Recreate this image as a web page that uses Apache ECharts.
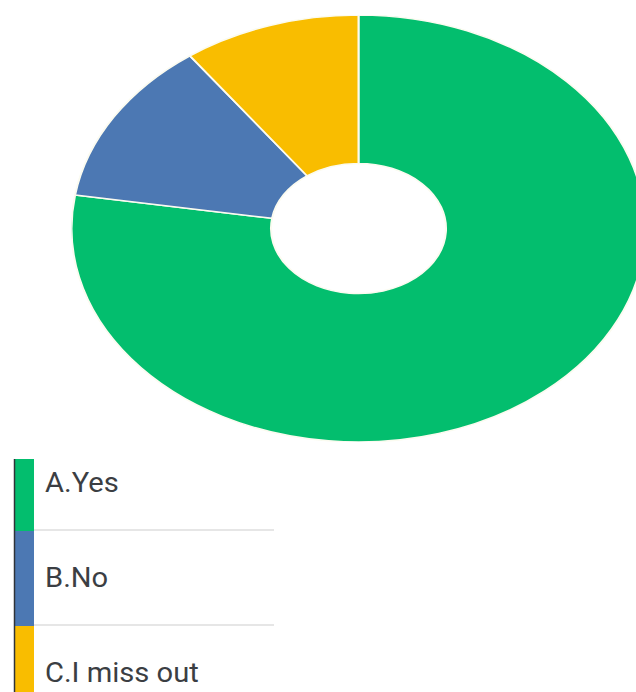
<!DOCTYPE html>
<html>
<head>
<meta charset="utf-8">
<script src="https://cdn.jsdelivr.net/npm/echarts@6/dist/echarts.min.js"></script>
<style>
  html, body { margin: 0; padding: 0; background: #fff; }
  body { width: 636px; height: 692px; overflow: hidden; position: relative; }
  #legend { position: absolute; left: 0; top: 0; width: 636px; height: 692px; }
  #donut { position: absolute; left: 144.5px; top: 15px; width: 427px; height: 427px;
           transform: scaleX(1.344); transform-origin: 50% 50%; }
</style>
</head>
<body>
<div id="legend"></div>
<div id="donut"></div>
<script>
// Survey answers and their counts
const categories = ['A.Yes', 'B.No', 'C.I miss out'];
const counts = [31, 5, 4];
const colors = ['#03BE6E', '#4C78B3', '#F9BD00'];

// Donut: a circular pie stretched horizontally by the container's CSS transform
const donut = echarts.init(document.getElementById('donut'), null, { renderer: 'svg' });
donut.setOption({
  animation: false,
  color: colors,
  series: [{
    type: 'pie',
    center: ['50%', '50%'],
    radius: ['30.5%', '100%'],
    startAngle: 90,
    clockwise: true,
    label: { show: false },
    labelLine: { show: false },
    itemStyle: { borderColor: '#fbfbf0', borderWidth: 1.5 },
    emphasis: { disabled: true },
    data: categories.map((name, i) => ({ name: name, value: counts[i] }))
  }]
});

// Legend list: colour strip, label and divider for each answer
const legend = echarts.init(document.getElementById('legend'), null, { renderer: 'svg' });
const rowTop = 436, rowPitch = 95, stripTop = 459;
const elements = [];
categories.forEach((name, i) => {
  const top = Math.max(rowTop + i * rowPitch, stripTop);
  const bottom = rowTop + (i + 1) * rowPitch;
  elements.push({
    type: 'rect', shape: { x: 15, y: top, width: 19, height: bottom - top },
    style: { fill: colors[i] }, silent: true
  });
  elements.push({
    type: 'text', x: 45, y: rowTop + i * rowPitch + rowPitch / 2 - 1, scaleX: 1.04,
    style: { text: name, fill: '#3b3e43', font: '28px Roboto, "Noto Sans", sans-serif',
             verticalAlign: 'middle', align: 'left' }, silent: true
  });
  if (i < categories.length - 1) {
    elements.push({
      type: 'line', shape: { x1: 34, y1: bottom - 1, x2: 274, y2: bottom - 1 },
      style: { stroke: '#e6e6e6', lineWidth: 2 }, silent: true
    });
  }
});
elements.push({
  type: 'line', shape: { x1: 14.5, y1: stripTop, x2: 14.5, y2: 692 },
  style: { stroke: '#2f3338', lineWidth: 1.5 }, silent: true
});
legend.setOption({ animation: false, graphic: { elements: elements } });
</script>
</body>
</html>
